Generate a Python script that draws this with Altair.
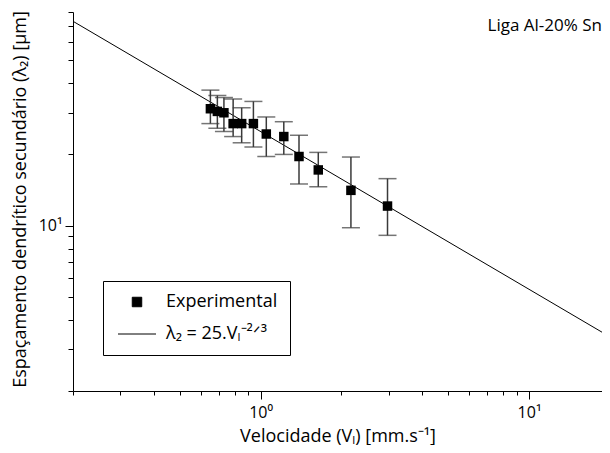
import altair as alt
import pandas as pd

# ---- data ----
velocity = [0.65, 0.69, 0.73, 0.79, 0.85, 0.94, 1.05, 1.22, 1.39, 1.64, 2.17, 2.97]
spacing = [31.2, 30.4, 30.0, 27.0, 27.0, 27.0, 24.4, 23.8, 19.6, 17.2, 14.1, 12.1]
spacing_hi = [37.4, 35.5, 34.8, 34.3, 31.5, 33.5, 28.8, 27.5, 24.1, 20.4, 19.5, 15.8]
spacing_lo = [27.0, 25.8, 25.0, 23.8, 22.4, 21.5, 19.6, 20.0, 15.0, 14.6, 9.8, 9.1]

fit_velocity = [0.2, 20]
fit_spacing = [73.1, 3.39]

series_names = ["Experimental", "λ₂ = 25.Vₗ⁻²ᐟ³"]
alloy_label = ["Liga Al-20% Sn"]

x_ticks = [0.2, 0.3, 0.4, 0.5, 0.6, 0.7, 0.8, 0.9, 1, 2, 3, 4, 5, 6, 7, 8, 9, 10]
y_ticks = [2, 3, 4, 5, 6, 7, 8, 9, 10, 20, 30, 40, 50, 60, 70, 80]

FONT = "Open Sans"

exp_df = pd.DataFrame({
    "v": velocity,
    "lam": spacing,
    "hi": spacing_hi,
    "lo": spacing_lo,
    "series": [series_names[0]] * len(velocity),
})
fit_df = pd.DataFrame({"v": fit_velocity, "lam": fit_spacing})
label_df = pd.DataFrame({"label": alloy_label})

xscale = alt.Scale(type="log", domain=[0.2, 18.7], nice=False)
yscale = alt.Scale(type="log", domain=[2, 80], nice=False)

major_test = "datum.value == 1 || datum.value == 10"

x_axis = alt.Axis(
    values=x_ticks,
    labelExpr="datum.value == 1 ? '10⁰' : (datum.value == 10 ? '10¹' : '')",
    tickSize={"condition": {"test": major_test, "value": 8}, "value": 4},
    labelPadding=5,
    labelOverlap=False,
    labelFlush=False,
    title="Velocidade (Vₗ) [mm.s⁻¹]",
    titleY=50,
    titleBaseline="alphabetic",
)
y_axis = alt.Axis(
    values=y_ticks,
    labelExpr="datum.value == 10 ? '10¹' : ''",
    tickSize={"condition": {"test": major_test, "value": 8}, "value": 5},
    labelPadding=3,
    labelOverlap=False,
    labelFlush=False,
    title="Espaçamento dendrítico secundário (λ₂) [μm]",
    titleX=-48,
    titleY=187,
    titleAngle=270,
    titleAlign="center",
    titleBaseline="alphabetic",
)

fit_line = alt.Chart(fit_df).mark_line(color="black", strokeWidth=1, clip=True).encode(
    x=alt.X("v:Q", scale=xscale, axis=x_axis),
    y=alt.Y("lam:Q", scale=yscale, axis=y_axis),
)

err_color = "#3a3a3a"
err_rule = alt.Chart(exp_df).mark_rule(color=err_color, strokeWidth=1.5).encode(
    x=alt.X("v:Q", scale=xscale),
    y=alt.Y("lo:Q", scale=yscale),
    y2="hi:Q",
)
cap_hi = alt.Chart(exp_df).mark_tick(
    orient="horizontal", size=18, thickness=1.5, color=err_color
).encode(x=alt.X("v:Q", scale=xscale), y=alt.Y("hi:Q", scale=yscale))
cap_lo = alt.Chart(exp_df).mark_tick(
    orient="horizontal", size=18, thickness=1.5, color=err_color
).encode(x=alt.X("v:Q", scale=xscale), y=alt.Y("lo:Q", scale=yscale))

legend = alt.Legend(
    title=None,
    orient="none",
    legendX=30,
    legendY=269,
    strokeColor="black",
    padding=12,
    labelFont=FONT,
    labelFontSize=18,
    labelColor="black",
    symbolOffset=12,
    labelOffset=19,
    rowPadding=13,
    symbolStrokeColor="black",
    symbolStrokeWidth=1,
)

points = alt.Chart(exp_df).mark_point(filled=True, opacity=1).encode(
    x=alt.X("v:Q", scale=xscale),
    y=alt.Y("lam:Q", scale=yscale),
    color=alt.Color("series:N", scale=alt.Scale(domain=series_names, range=["black", "black"]), legend=legend),
    shape=alt.Shape("series:N", scale=alt.Scale(domain=series_names, range=["square", "M-2,0H2"]), legend=legend),
    size=alt.Size("series:N", scale=alt.Scale(domain=series_names, range=[90, 361]), legend=legend),
)

note = alt.Chart(label_df).mark_text(
    align="right", baseline="alphabetic", font=FONT, fontSize=17, color="black"
).encode(x=alt.value(529), y=alt.value(18.5), text="label:N")

chart = alt.layer(fit_line, err_rule, cap_hi, cap_lo, points, note).properties(
    width=529,
    height=379,
    autosize=alt.AutoSizeParams(type="none"),
    padding={"left": 65, "top": 4, "right": 0, "bottom": 54},
).configure_view(stroke=None).configure_axis(
    grid=False,
    domainColor="black",
    domainWidth=1,
    tickColor="black",
    tickWidth=1,
    labelFont=FONT,
    labelFontSize=16,
    labelColor="black",
    titleFont=FONT,
    titleFontSize=18,
    titleFontWeight="normal",
    titleColor="black",
)

chart.save("out.html", embed_options={"renderer": "svg", "actions": False})
